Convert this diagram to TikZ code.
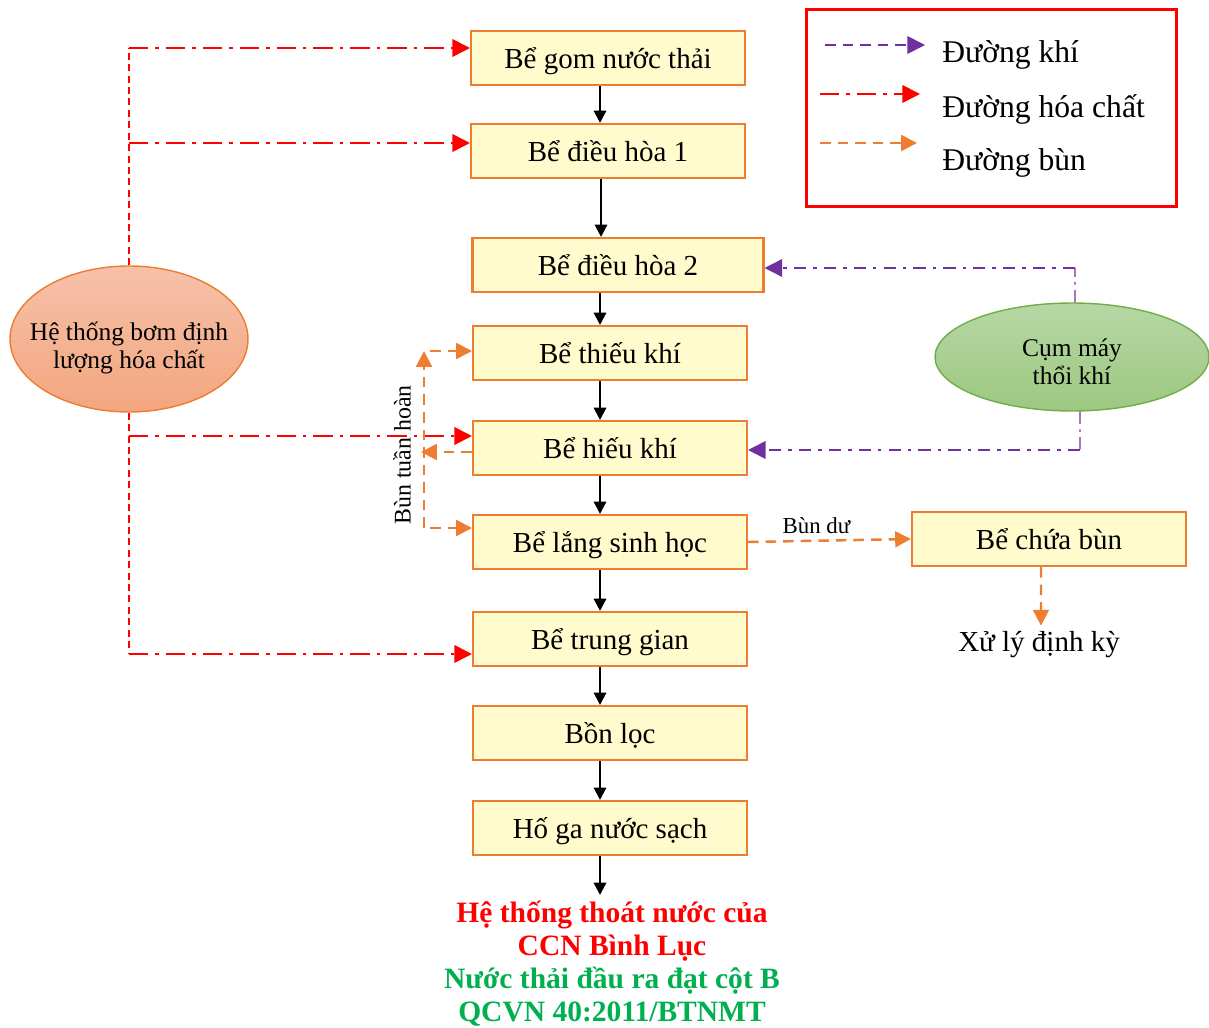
\documentclass[tikz,border=0pt]{standalone}
\usepackage{fontspec}
\setmainfont{Liberation Serif}
\usetikzlibrary{arrows.meta,shapes.geometric}

\definecolor{boxfill}{HTML}{FFFBCC}
\definecolor{boxline}{HTML}{ED7D31}
\definecolor{khi}{HTML}{7030A0}
\definecolor{hoachat}{HTML}{FF0000}
\definecolor{bun}{HTML}{ED7D31}
\definecolor{xanh}{HTML}{00B050}
\definecolor{bomtop}{HTML}{F6C1A9}
\definecolor{bombot}{HTML}{F3A67F}
\definecolor{maytop}{HTML}{B7D7A5}
\definecolor{maybot}{HTML}{9CC880}
\definecolor{mayline}{HTML}{70AD47}

\tikzset{
  be/.style={draw=boxline, line width=1.2pt, fill=boxfill, minimum width=5.48cm,
    minimum height=1.08cm, inner sep=0pt, text height=2.6ex, text depth=0pt,
    font=\fontsize{16.5}{18}\selectfont},
  dong/.style={-{Triangle[length=7pt,width=7pt]}, line width=1.3pt, black},
  hoachatline/.style={hoachat, line width=1pt,
    dash pattern=on 11pt off 4pt on 2pt off 4pt, -{Triangle[length=10pt,width=10pt]}},
  hoachatvert/.style={hoachat, line width=0.6pt, dash pattern=on 4pt off 2.5pt},
  khiline/.style={khi, line width=1pt,
    dash pattern=on 7pt off 4pt on 2pt off 4pt, -{Triangle[length=10pt,width=10pt]}},
  khivert/.style={khi, line width=0.6pt, dash pattern=on 7pt off 3pt on 1.5pt off 3pt},
  bunline/.style={bun, line width=1.4pt, dash pattern=on 6pt off 4pt,
    -{Triangle[length=9pt,width=9pt]}},
  elip/.style={ellipse, inner sep=0pt, align=center, font=\fontsize{14.5}{16}\selectfont},
}

\begin{document}
\begin{tikzpicture}[x=0.02cm,y=-0.02cm]
\useasboundingbox (0,0) rectangle (1209,1027);

% cac be xu ly
\node [be] (gom) at (608,58) {Bể gom nước thải};
\node [be] (dh1) at (608,151) {Bể điều hòa 1};
\node [be, minimum width=5.82cm] (dh2) at (618,265) {Bể điều hòa 2};
\node [be] (tk) at (610,353) {Bể thiếu khí};
\node [be] (hk) at (610,448) {Bể hiếu khí};
\node [be] (lang) at (610,542) {Bể lắng sinh học};
\node [be] (tg) at (610,639) {Bể trung gian};
\node [be] (loc) at (610,733) {Bồn lọc};
\node [be] (hoga) at (610,828) {Hố ga nước sạch};
\node [be] (chua) at (1049,539) {Bể chứa bùn};
\node [font=\fontsize{16.5}{18}\selectfont] (xuly) at (1039,645) {Xử lý định kỳ};

\node [align=center, font=\bfseries\fontsize{16.8}{18.8}\selectfont, text=hoachat, anchor=north] (thoat) at (612,895)
  {Hệ thống thoát nước của\\CCN Bình Lục};
\node [align=center, font=\bfseries\fontsize{16.8}{18.8}\selectfont, text=xanh, anchor=north] (dat) at (612,961)
  {Nước thải đầu ra đạt cột B\\QCVN 40:2011/BTNMT};

% duong nuoc
\draw [dong] ([xshift=-0.16cm]gom.south) -- ([xshift=-0.16cm]dh1.north);
\draw [dong] ([xshift=-0.14cm]dh1.south) -- ([xshift=-0.14cm]dh1.south |- dh2.north);
\draw [dong] ([xshift=-0.2cm]tk.north |- dh2.south) -- ([xshift=-0.2cm]tk.north);
\draw [dong] ([xshift=-0.2cm]tk.south) -- ([xshift=-0.2cm]hk.north);
\draw [dong] ([xshift=-0.2cm]hk.south) -- ([xshift=-0.2cm]lang.north);
\draw [dong] ([xshift=-0.2cm]lang.south) -- ([xshift=-0.2cm]tg.north);
\draw [dong] ([xshift=-0.2cm]tg.south) -- ([xshift=-0.2cm]loc.north);
\draw [dong] ([xshift=-0.2cm]loc.south) -- ([xshift=-0.2cm]hoga.north);
\draw [dong] ([xshift=-0.2cm]hoga.south) -- ([xshift=-0.2cm]hoga.south |- thoat.north);

% hoa chat
\node [elip, draw=boxline, line width=0.8pt, top color=bomtop, bottom color=bombot,
  minimum width=4.76cm, minimum height=2.92cm, inner xsep=-0.45cm, text height=34pt, text depth=0pt] (bom) at (129,339) {Hệ thống bơm định\\lượng hóa chất};
\coordinate (hc1) at (129,48);
\coordinate (hc2) at (129,143);
\coordinate (hc3) at (129,436);
\coordinate (hc4) at (129,654);
\draw [hoachatvert] (bom.north) -- (hc1);
\draw [hoachatvert] (bom.south) -- (hc4);
\draw [hoachatline] (hc1) -- (gom.west |- hc1);
\draw [hoachatline] (hc2) -- (dh1.west |- hc2);
\draw [hoachatline] (hc3) -- (hk.west |- hc3);
\draw [hoachatline] (hc4) -- (tg.west |- hc4);

% khi
\node [elip, draw=mayline, line width=0.8pt, top color=maytop, bottom color=maybot,
  minimum width=5.48cm, minimum height=2.16cm, text height=31pt, text depth=0pt] (may) at (1072,357) {Cụm máy\\ thổi khí};
\coordinate (k1) at (1075,268);
\coordinate (k2) at (1080,450);
\draw [khivert] ([xshift=0.06cm]may.north) -- (k1);
\draw [khiline] (k1) -- (dh2.east |- k1);
\draw [khivert] ([xshift=0.16cm]may.south) -- (k2);
\draw [khiline] (k2) -- (hk.east |- k2);

% bun
\coordinate (tren) at (424,351);
\coordinate (duoi) at (424,528);
\coordinate (giua) at (421,452);
\draw [bunline] (duoi) -- (tren);
\draw [bunline] ([xshift=0.12cm]tren) -- (tk.west |- tren);
\draw [bunline] ([xshift=0.12cm]duoi) -- (lang.west |- duoi);
\draw [bunline] (hk.west |- giua) -- (giua);
\node [rotate=90, font=\fontsize{13.6}{15}\selectfont] (tuanhoan) at (402,455) {Bùn tuần hoàn};
\draw [bunline] (lang.east) -- node [above, black, font=\fontsize{13}{14}\selectfont, pos=0.42] {Bùn dư} (chua.west);
\draw [bunline] ([xshift=-0.16cm]chua.south) -- ([xshift=0.04cm]xuly.north);

% chu thich
\node [draw=hoachat, line width=1.5pt, minimum width=7.4cm, minimum height=3.94cm, anchor=north west, inner sep=0pt] (chuthich) at (805,8) {};
\coordinate (l1) at (825,45);
\coordinate (l2) at (820,94);
\coordinate (l3) at (820,143);
\draw [khiline, dash pattern=on 6pt off 4pt] (l1) -- ++(100,0);
\draw [hoachatline] (l2) -- ++(100,0);
\draw [bunline] (l3) -- ++(97,0);
\node [anchor=west, font=\fontsize{18}{20}\selectfont, inner sep=0pt] (tk1) at (942,55) {Đường khí};
\node [anchor=west, font=\fontsize{18}{20}\selectfont, inner sep=0pt] (tk2) at (942,109) {Đường hóa chất};
\node [anchor=west, font=\fontsize{18}{20}\selectfont, inner sep=0pt] (tk3) at (942,163) {Đường bùn};

\end{tikzpicture}
\end{document}
